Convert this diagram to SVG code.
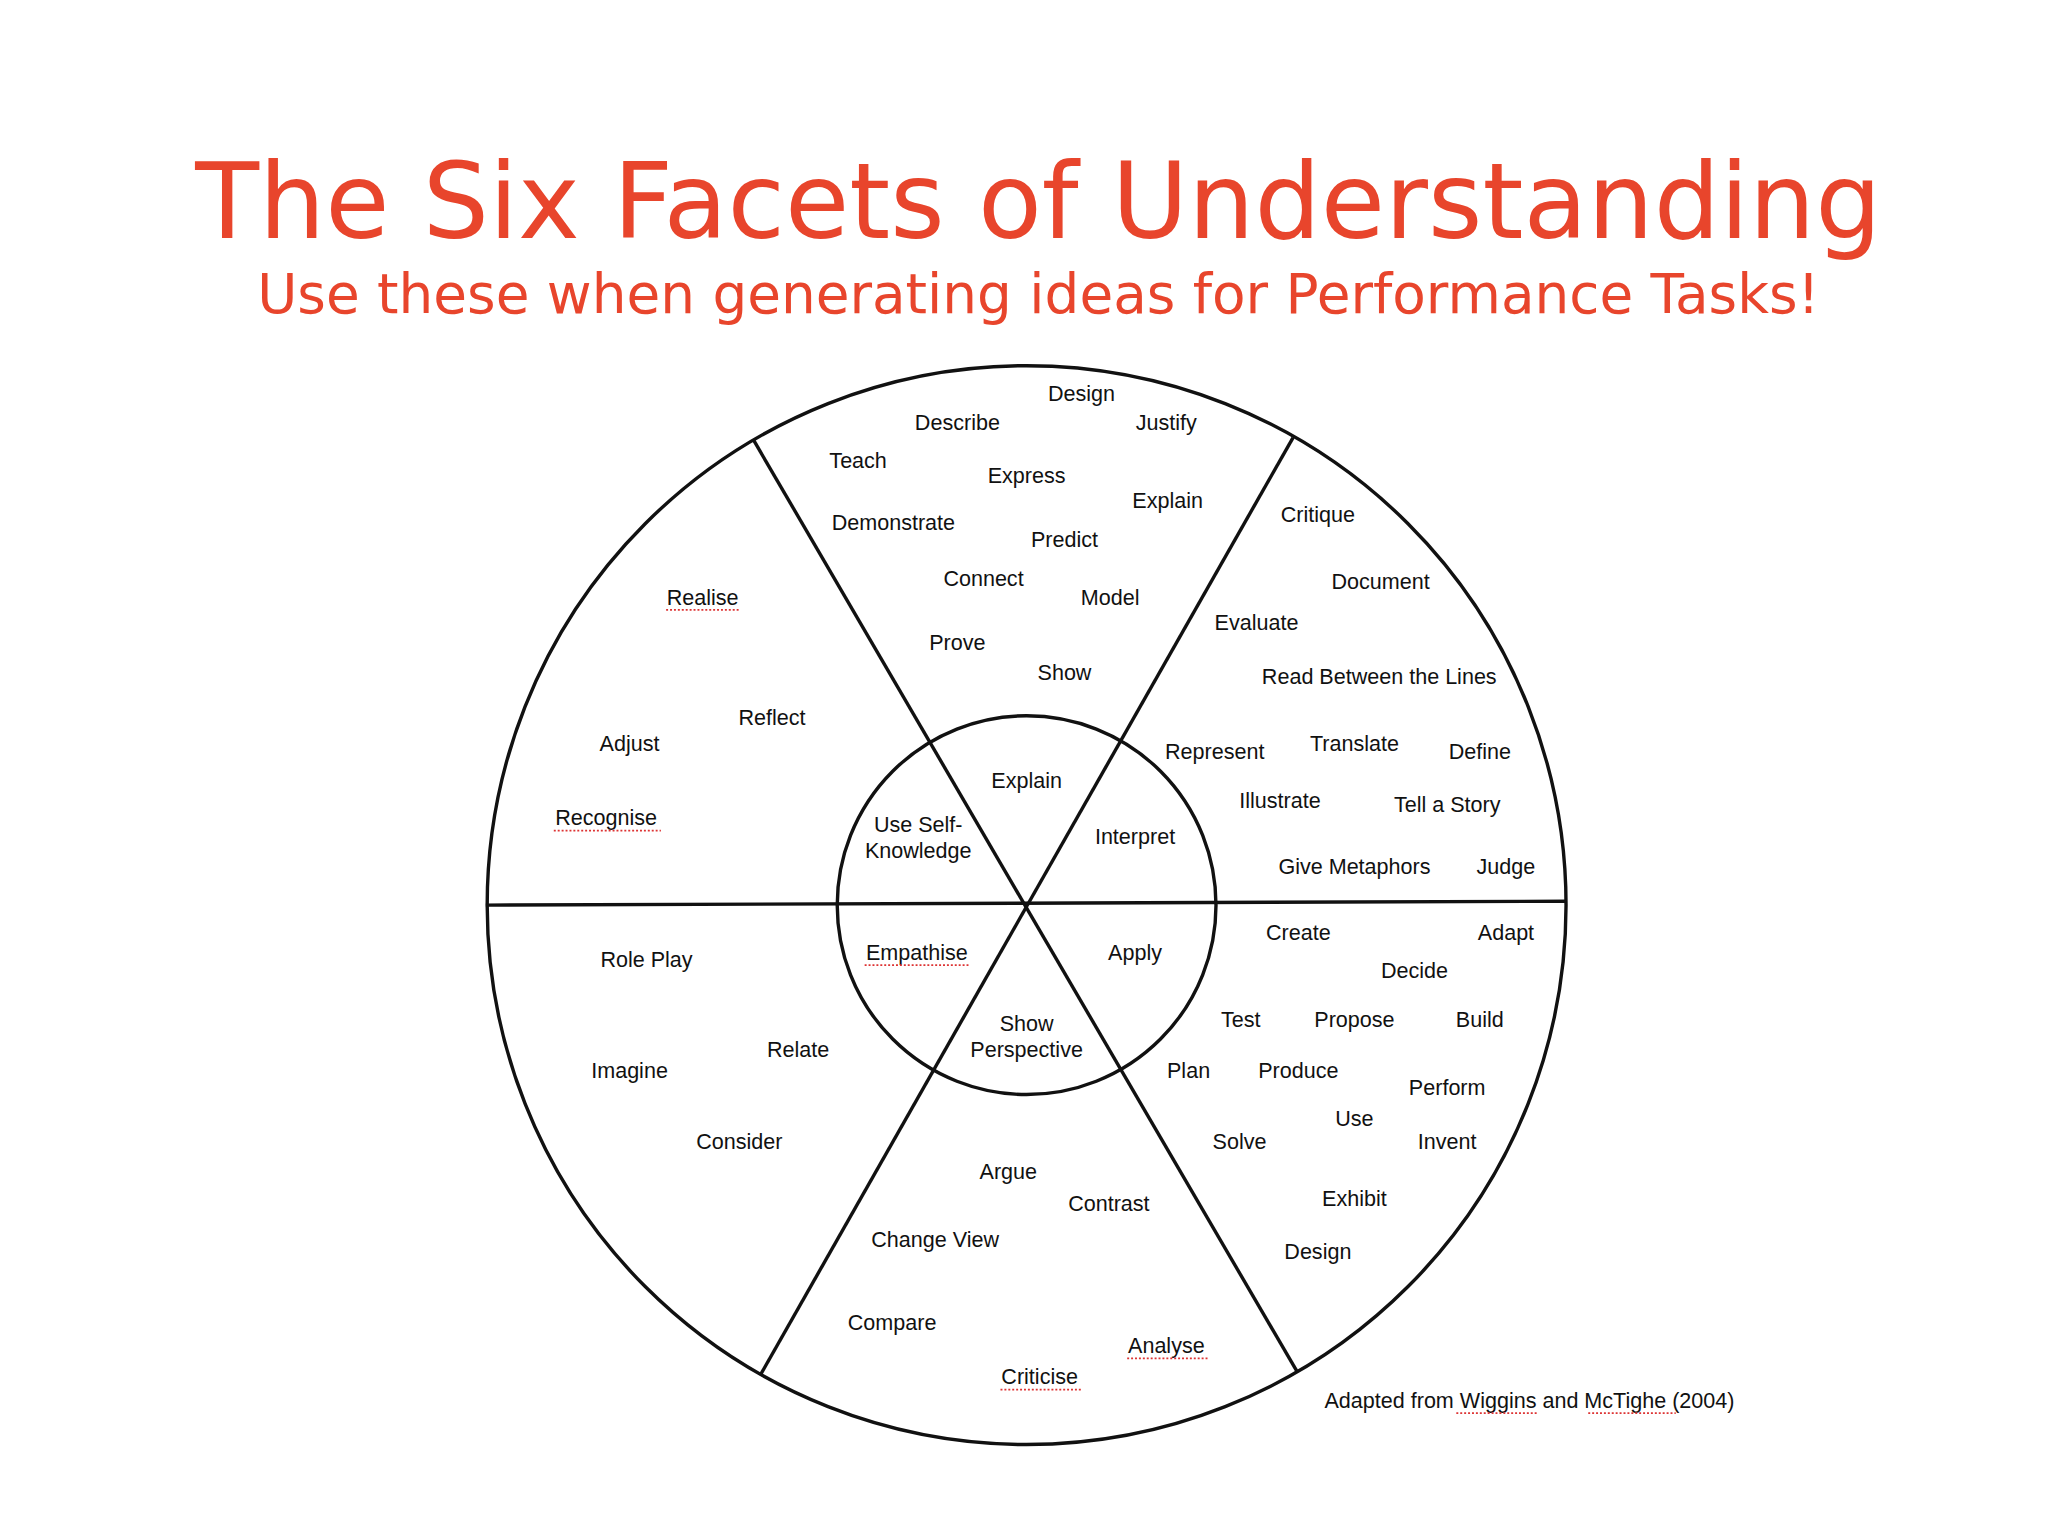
<svg xmlns="http://www.w3.org/2000/svg" width="2048" height="1536" viewBox="0 0 2048 1536">
<style>
.t{font-family:"Liberation Sans",Arial,sans-serif;font-size:16.5px;fill:#111;text-anchor:middle}
.h{font-family:"DejaVu Sans",Verdana,sans-serif;fill:#E8452C;text-anchor:middle}
.sq{stroke:#d33;stroke-width:1.3;stroke-dasharray:1.5 1.5;fill:none}
.ln{stroke:#111;stroke-width:2.6;fill:none}
</style>
<rect width="2048" height="1536" fill="#fff"/>
<g transform="scale(1.30612)">
<text class="h" x="795" y="182" font-size="80">The Six Facets of Understanding</text>
<text class="h" x="795" y="240" font-size="42">Use these when generating ideas for Performance Tasks!</text>
<g id="connectors">
<circle class="ln" cx="786" cy="693" r="413"/>
<circle class="ln" cx="786" cy="693" r="145"/>
<line class="ln" x1="372" y1="693" x2="1199" y2="690"/>
<line class="ln" x1="577" y1="337" x2="993" y2="1050"/>
<line class="ln" x1="990" y1="335" x2="582" y2="1053"/>
</g>
<g id="explain">
<text class="t" x="828" y="307">Design</text><text class="t" x="733" y="329">Describe</text><text class="t" x="893" y="329">Justify</text>
<text class="t" x="657" y="358">Teach</text><text class="t" x="786" y="370">Express</text><text class="t" x="894" y="389">Explain</text>
<text class="t" x="684" y="406">Demonstrate</text><text class="t" x="815" y="419">Predict</text><text class="t" x="753" y="449">Connect</text>
<text class="t" x="850" y="463">Model</text><text class="t" x="733" y="498">Prove</text><text class="t" x="815" y="521">Show</text>
</g>
<g id="interpret">
<text class="t" x="1009" y="400">Critique</text><text class="t" x="1057" y="451">Document</text><text class="t" x="962" y="482">Evaluate</text>
<text class="t" x="1056" y="524">Read Between the Lines</text><text class="t" x="930" y="581">Represent</text><text class="t" x="1037" y="575">Translate</text>
<text class="t" x="1133" y="581">Define</text><text class="t" x="980" y="619">Illustrate</text><text class="t" x="1108" y="622">Tell a Story</text>
<text class="t" x="1037" y="669">Give Metaphors</text><text class="t" x="1153" y="669">Judge</text>
</g>
<g id="self-knowledge">
<text class="t" x="538" y="463">Realise</text><text class="t" x="591" y="555">Reflect</text><text class="t" x="482" y="575">Adjust</text><text class="t" x="464" y="632">Recognise</text>
<path class="sq" d="M510 467H567M424 636H506"/>
</g>
<g id="inner">
<text class="t" x="786" y="603">Explain</text><text class="t" x="703" y="637">Use Self-</text><text class="t" x="703" y="657">Knowledge</text>
<text class="t" x="869" y="646">Interpret</text><text class="t" x="702" y="735">Empathise</text><text class="t" x="869" y="735">Apply</text>
<text class="t" x="786" y="789">Show</text><text class="t" x="786" y="809">Perspective</text>
<path class="sq" d="M662 739H743"/>
</g>
<g id="empathise">
<text class="t" x="495" y="740">Role Play</text><text class="t" x="611" y="809">Relate</text><text class="t" x="482" y="825">Imagine</text><text class="t" x="566" y="880">Consider</text>
</g>
<g id="apply">
<text class="t" x="994" y="720">Create</text><text class="t" x="1153" y="720">Adapt</text><text class="t" x="1083" y="749">Decide</text>
<text class="t" x="950" y="786">Test</text><text class="t" x="1037" y="786">Propose</text><text class="t" x="1133" y="786">Build</text>
<text class="t" x="910" y="825">Plan</text><text class="t" x="994" y="825">Produce</text><text class="t" x="1108" y="838">Perform</text>
<text class="t" x="1037" y="862">Use</text><text class="t" x="949" y="880">Solve</text><text class="t" x="1108" y="880">Invent</text>
<text class="t" x="1037" y="923">Exhibit</text><text class="t" x="1009" y="964">Design</text>
</g>
<g id="perspective">
<text class="t" x="772" y="903">Argue</text><text class="t" x="849" y="927">Contrast</text><text class="t" x="716" y="955">Change View</text>
<text class="t" x="683" y="1018">Compare</text><text class="t" x="893" y="1036">Analyse</text><text class="t" x="796" y="1060">Criticise</text>
<path class="sq" d="M863 1040H925M766 1064H828"/>
</g>
<text class="t" x="1171" y="1078">Adapted from Wiggins and McTighe (2004)</text>
<path class="sq" d="M1115 1082H1178M1216 1082H1283"/>
</g>
</svg>
